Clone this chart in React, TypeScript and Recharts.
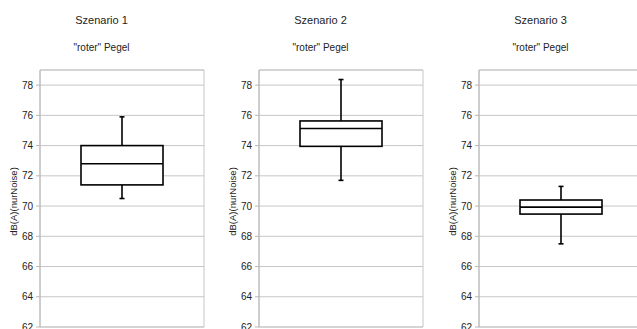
import { ComposedChart, Bar, XAxis, YAxis, CartesianGrid, ReferenceArea } from "recharts";

const scenarios = ["Szenario 1", "Szenario 2", "Szenario 3"];
const mins = [70.5, 71.7, 67.5];
const q1s = [71.4, 73.95, 69.47];
const medians = [72.8, 75.13, 69.93];
const q3s = [74.0, 75.63, 70.4];
const maxs = [75.9, 78.37, 71.3];
const yTicks = [62, 64, 66, 68, 70, 72, 74, 76, 78];

const FONT = "'Liberation Sans', Arial, sans-serif";

const BoxShape = (props: any) => {
  const { x, y, width, height, payload } = props;
  const { min, max, q1, med, q3 } = payload;
  const py = (v: number) => y + ((max - v) / (max - min)) * height;
  const cx = x + width / 2;
  return (
    <g stroke="#000" strokeWidth={1.6} fill="none">
      <line x1={cx} x2={cx} y1={py(max)} y2={py(q3)} />
      <line x1={cx} x2={cx} y1={py(q1)} y2={py(min)} />
      <line x1={cx - 2.5} x2={cx + 2.5} y1={py(max)} y2={py(max)} />
      <line x1={cx - 2.5} x2={cx + 2.5} y1={py(min)} y2={py(min)} />
      <rect x={x} y={py(q3)} width={width} height={py(q1) - py(q3)} fill="#fff" />
      <line x1={x} x2={x + width} y1={py(med)} y2={py(med)} />
    </g>
  );
};

function Panel({ i, left, marginLeft }: { i: number; left: number; marginLeft: number }) {
  const data = [
    {
      name: scenarios[i],
      range: [mins[i], maxs[i]],
      min: mins[i],
      q1: q1s[i],
      med: medians[i],
      q3: q3s[i],
      max: maxs[i],
    },
  ];
  const plotLeft = marginLeft + 40;
  return (
    <div style={{ position: "absolute", left, top: 0, width: 216, height: 340 }}>
      <div
        style={{
          position: "absolute",
          left: plotLeft + 61.5 - 60,
          width: 120,
          top: 14,
          textAlign: "center",
          fontSize: 11,
          color: "#222",
        }}
      >
        {scenarios[i]}
      </div>
      <div
        style={{
          position: "absolute",
          left: plotLeft + 61.5 - 60,
          width: 120,
          top: 42,
          textAlign: "center",
          fontSize: 10,
          color: "#222",
        }}
      >
        "roter" Pegel
      </div>
      <ComposedChart
        width={216}
        height={340}
        data={data}
        margin={{ top: 70, right: 216 - plotLeft - 164, bottom: 13, left: marginLeft }}
        style={{ fontFamily: FONT }}
      >
        <CartesianGrid vertical={false} stroke="#c6c6c6" strokeWidth={1} />
        <ReferenceArea y1={62} y2={79} fill="none" stroke="#c6c6c6" ifOverflow="visible" />
        <XAxis dataKey="name" hide />
        <YAxis
          domain={[62, 79]}
          ticks={yTicks}
          width={40}
          tickSize={4}
          tickMargin={3}
          axisLine={{ stroke: "#b8b8b8" }}
          tickLine={{ stroke: "#b8b8b8" }}
          tick={{ fontSize: 10, fill: "#222" }}
          label={{
            content: ({ viewBox }: any) => {
              const cx = plotLeft - 27;
              const cy = viewBox.y + viewBox.height / 2 + 3;
              return (
                <text
                  x={cx}
                  y={cy}
                  transform={`rotate(-90 ${cx} ${cy})`}
                  textAnchor="middle"
                  dominantBaseline="central"
                  fontSize={9.5}
                  fill="#222"
                >
                  dB(A)(nurNoise)
                </text>
              );
            },
          }}
        />
        <Bar dataKey="range" barSize={82} shape={BoxShape} isAnimationActive={false} />
      </ComposedChart>
    </div>
  );
}

export default function App() {
  return (
    <div
      style={{
        position: "absolute",
        left: 0,
        top: 0,
        width: 637,
        height: 329,
        overflow: "hidden",
        background: "#fff",
        fontFamily: FONT,
      }}
    >
      <Panel i={0} left={0} marginLeft={0} />
      <Panel i={1} left={213} marginLeft={6} />
      <Panel i={2} left={426} marginLeft={13} />
    </div>
  );
}
